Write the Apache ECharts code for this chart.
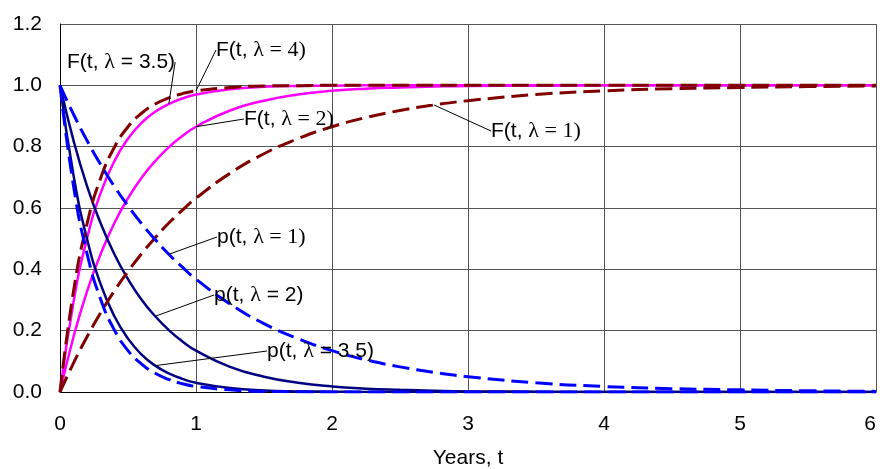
<!DOCTYPE html>
<html>
<head>
<meta charset="utf-8">
<script src="https://cdn.jsdelivr.net/npm/echarts@6/dist/echarts.min.js"></script>
<style>
  html, body { margin: 0; padding: 0; background: #fff; }
  #chart { width: 880px; height: 469px; }
</style>
</head>
<body>
<div id="chart"></div>
<script>
// Time points (years)
const years = [0, 0.1, 0.2, 0.3, 0.4, 0.5, 0.6, 0.7, 0.8, 0.9, 1.0,
               1.25, 1.5, 1.75, 2.0, 2.25, 2.5, 2.75, 3.0, 3.5, 4.0, 4.5, 5.0, 5.5, 6.0];

// Survival probability p(t) for each failure rate
const pLambda1   = [1, .905, .819, .741, .670, .607, .549, .497, .449, .407, .368,
                    .287, .223, .174, .135, .105, .082, .064, .050, .030, .018, .011, .007, .004, .002];
const pLambda2   = [1, .819, .670, .549, .449, .368, .301, .247, .202, .165, .135,
                    .082, .050, .030, .018, .011, .007, .004, .002, .001, 0, 0, 0, 0, 0];
const pLambda3_5 = [1, .705, .497, .350, .247, .174, .122, .086, .061, .043, .030,
                    .013, .005, .002, .001, 0, 0, 0, 0, 0, 0, 0, 0, 0, 0];
const pLambda4   = [1, .670, .449, .301, .202, .135, .091, .061, .041, .027, .018,
                    .007, .002, .001, 0, 0, 0, 0, 0, 0, 0, 0, 0, 0, 0];

// Cumulative failure probability F(t) for each failure rate
const fLambda1   = [0, .095, .181, .259, .330, .393, .451, .503, .551, .593, .632,
                    .713, .777, .826, .865, .895, .918, .936, .950, .970, .982, .989, .993, .996, .998];
const fLambda2   = [0, .181, .330, .451, .551, .632, .699, .753, .798, .835, .865,
                    .918, .950, .970, .982, .989, .993, .996, .998, .999, 1, 1, 1, 1, 1];
const fLambda3_5 = [0, .295, .503, .650, .753, .826, .878, .914, .939, .957, .970,
                    .987, .995, .998, .999, 1, 1, 1, 1, 1, 1, 1, 1, 1, 1];
const fLambda4   = [0, .330, .551, .699, .798, .865, .909, .939, .959, .973, .982,
                    .993, .998, .999, 1, 1, 1, 1, 1, 1, 1, 1, 1, 1, 1];

const yTicks = [0, 0.2, 0.4, 0.6, 0.8, 1.0, 1.2];
const xTicks = [0, 1, 2, 3, 4, 5, 6];

const SANS = 'Liberation Sans, Arial, sans-serif';
const SERIF = 'Liberation Serif, Times New Roman, serif';

const labelRich = {
  s: { fontFamily: SANS, fontSize: 21, color: '#000' },
  r: { fontFamily: SERIF, fontSize: 22, color: '#000' }
};

// Build one curve; the callout sits on the data point at anchorIdx
function curve(name, values, color, dashed, anchorIdx, text, pos) {
  const data = years.map((t, i) => {
    const item = { value: [t, values[i]] };
    if (i === anchorIdx) {
      item.symbol = 'circle';
      item.symbolSize = 0.01;
      item.label = { show: true, position: 'top', formatter: text, rich: labelRich };
    }
    return item;
  });
  return {
    name,
    type: 'line',
    data,
    smooth: true,
    symbol: 'none',
    showAllSymbol: true,
    lineStyle: { color, width: dashed ? 3 : 2.5, type: dashed ? [17, 7] : 'solid', cap: 'butt' },
    itemStyle: { color },
    emphasis: { disabled: true },
    labelLine: { show: true, lineStyle: { color: '#000', width: 1 } },
    labelLayout: { x: pos[0], y: pos[1], align: 'left', verticalAlign: 'middle', moveOverlap: false }
  };
}

const chart = echarts.init(document.getElementById('chart'), null, { renderer: 'canvas' });

chart.setOption({
  animation: false,
  backgroundColor: '#fff',
  grid: { left: 60, right: 4, top: 24, bottom: 77, show: false, outerBoundsMode: 'none', containLabel: false },
  xAxis: {
    type: 'value',
    min: xTicks[0],
    max: xTicks[xTicks.length - 1],
    interval: 1,
    name: 'Years, t',
    nameLocation: 'middle',
    nameGap: 56,
    nameTextStyle: { fontFamily: SANS, fontSize: 21, color: '#000' },
    axisLine: { show: true, onZero: false, lineStyle: { color: '#000', width: 1 } },
    axisTick: { show: false },
    axisLabel: { fontFamily: SANS, fontSize: 21, color: '#000', margin: 22, alignMaxLabel: 'right' },
    splitLine: { show: true, lineStyle: { color: '#555', width: 1 } }
  },
  yAxis: {
    type: 'value',
    min: yTicks[0],
    max: yTicks[yTicks.length - 1],
    interval: 0.2,
    axisLine: { show: true, lineStyle: { color: '#000', width: 1 } },
    axisTick: { show: false },
    axisLabel: { fontFamily: SANS, fontSize: 21, color: '#000', margin: 18,
                 formatter: v => v.toFixed(1) },
    splitLine: { show: true, lineStyle: { color: '#555', width: 1 } }
  },
  series: [
    curve('F(t, λ=2)', fLambda2, '#FF00FF', false, 10, '{s|F(t, }{r|λ = 2)}', [244, 119]),
    curve('F(t, λ=3.5)', fLambda3_5, '#FF00FF', false, 8, '{s|F(t, }{r|λ}{s| = 3.5)}', [67, 62]),
    curve('p(t, λ=2)', pLambda2, '#000080', false, 7, '{s|p(t, }{r|λ}{s| = 2)}', [214, 295]),
    curve('p(t, λ=3.5)', pLambda3_5, '#000080', false, 7, '{s|p(t, }{r|λ}{s| = 3.5)}', [267, 351]),
    curve('F(t, λ=1)', fLambda1, '#800000', true, 17, '{s|F(t, }{r|λ = 1)}', [491, 131]),
    curve('F(t, λ=4)', fLambda4, '#800000', true, 10, '{s|F(t, }{r|λ = 4)}', [216, 50]),
    curve('p(t, λ=1)', pLambda1, '#0000FF', true, 8, '{s|p(t, }{r|λ = 1)}', [217, 237]),
    curve('p(t, λ=4)', pLambda4, '#0000FF', true, -1, '', [0, 0])
  ]
});
</script>
</body>
</html>
